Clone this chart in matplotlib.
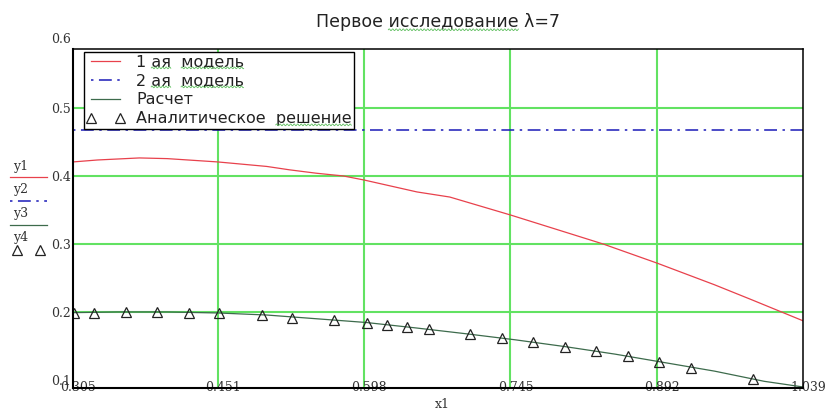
import numpy as np
import matplotlib
matplotlib.use("Agg")
import matplotlib.pyplot as plt
from matplotlib.lines import Line2D
from matplotlib.transforms import ScaledTranslation

# --- data -------------------------------------------------------------
x_ticks = [0.305, 0.451, 0.598, 0.745, 0.892, 1.039]
y_ticks = [0.1, 0.2, 0.3, 0.4, 0.5]

# 1st model
x1_m1 = [0.305, 0.33, 0.372, 0.40, 0.451, 0.50, 0.523, 0.55, 0.577, 0.598,
         0.651, 0.684, 0.745, 0.79, 0.838, 0.892, 0.95, 0.988, 1.039]
y1 = [0.4206, 0.4235, 0.4265, 0.4255, 0.4206, 0.4140, 0.409, 0.404, 0.400, 0.394,
      0.3765, 0.369, 0.3426, 0.322, 0.300, 0.272, 0.240, 0.2176, 0.187]

# 2nd model (constant)
x1_m2 = [0.305, 1.039]
y2 = [0.467, 0.467]

# calculation
x1_calc = [0.305, 0.35, 0.40, 0.451, 0.50, 0.55, 0.60, 0.65, 0.70, 0.75,
           0.80, 0.85, 0.90, 0.95, 1.00, 1.039]
y3 = [0.199, 0.2, 0.2, 0.1985, 0.1955, 0.190, 0.1845, 0.1765, 0.168, 0.159,
      0.149, 0.138, 0.1255, 0.113, 0.098, 0.0897]

# analytical solution
x1_an = [0.3063, 0.3267, 0.3583, 0.3894, 0.4219, 0.4520, 0.4950, 0.5257,
         0.5679, 0.6005, 0.6206, 0.6413, 0.6634, 0.7043, 0.7368, 0.7679,
         0.7998, 0.8310, 0.8628, 0.8943, 0.9265, 0.9891]
y4 = [0.1981, 0.1981, 0.1996, 0.1996, 0.1981, 0.1981, 0.1951, 0.1916,
      0.1878, 0.1838, 0.1809, 0.1779, 0.1750, 0.1676, 0.1613, 0.1563,
      0.1490, 0.1426, 0.1353, 0.1265, 0.1181, 0.1010]

labels = ["1 ая  модель", "2 ая  модель", "Расчет", "Аналитическое  решение"]
title = "Первое исследование λ=7"

# --- styles -----------------------------------------------------------
RED = "#e8414c"
BLUE = "#1a1ab8"
DGREEN = "#3d6b4c"
GRID = "#62e262"
SPELL = "#5fbf5f"
DASHDOT = (0, (1.6, 3.6, 8.4, 3.6))
SERIF = "DejaVu Serif"
W, H = 827.0, 412.0

fig = plt.figure(figsize=(W / 100, H / 100), dpi=100)
ax = fig.add_axes([0.0879, 0.0583, 0.8831, 0.8216])

ax.plot(x1_m1, y1, color=RED, lw=0.9, label=labels[0])
ax.plot(x1_m2, y2, color=BLUE, lw=1.1, linestyle=DASHDOT, label=labels[1])
ax.plot(x1_calc, y3, color=DGREEN, lw=0.9, label=labels[2])
ax.plot(x1_an, y4, linestyle="none", marker="^", markersize=7.5,
        markerfacecolor="none", markeredgecolor="#222222", markeredgewidth=0.9,
        label=labels[3])

ax.set_xlim(0.305, 1.039)
ax.set_ylim(0.0882, 0.586)

# grid only on interior ticks
for xv in x_ticks[1:-1]:
    ax.axvline(xv, color=GRID, lw=1.5, zorder=0)
for yv in y_ticks[1:]:
    ax.axhline(yv, color=GRID, lw=1.5, zorder=0)

ax.set_xticks(x_ticks)
ax.set_xticklabels([f"{v:.3f}" for v in x_ticks])
ax.set_yticks(y_ticks)
ax.set_yticklabels([f"{v:g}" for v in y_ticks])
ax.tick_params(axis="both", length=0, labelsize=9, labelcolor="#333333")
ax.tick_params(axis="x", pad=-5)
ax.tick_params(axis="y", pad=1)
for lab in ax.get_xticklabels() + ax.get_yticklabels():
    lab.set_fontfamily(SERIF)
for lab in ax.get_xticklabels():
    lab.set_transform(lab.get_transform() + ScaledTranslation(5 / 100, 0, fig.dpi_scale_trans))

# 0.6 label sits above the frame
ax.text(-0.003, 0.6, "0.6", transform=ax.get_yaxis_transform(), ha="right", va="center",
        fontsize=9, family=SERIF, color="#333333", clip_on=False)

for side in ["left", "bottom"]:
    ax.spines[side].set_linewidth(1.5)
for side in ["top", "right"]:
    ax.spines[side].set_linewidth(1.1)

leg = ax.legend(loc="upper left", bbox_to_anchor=(0.0155, 0.9926), borderaxespad=0,
                fontsize=11.5, numpoints=2, handlelength=2.4, handletextpad=0.7,
                labelspacing=0.25, borderpad=0.15, fancybox=False, framealpha=1,
                edgecolor="black")
leg.get_frame().set_linewidth(1.0)
for t in leg.get_texts():
    t.set_color("#222222")

ttl = ax.set_title(title, fontsize=12.5, color="#222222", pad=16)

# y axis trace labels at left
ytrace = [("y1", 166, dict(color=RED, lw=0.9)),
          ("y2", 190, dict(color=BLUE, lw=1.1, linestyle=DASHDOT)),
          ("y3", 214, dict(color=DGREEN, lw=0.9)),
          ("y4", 238, None)]
for name, ypx, style in ytrace:
    fig.text(13 / W, 1 - ypx / H, name, fontsize=9, family=SERIF, color="#333333",
             va="center", ha="left")
    if style is not None:
        fig.add_artist(Line2D([10 / W, 47 / W], [1 - (ypx + 11) / H] * 2,
                              transform=fig.transFigure, **style))
    else:
        fig.add_artist(Line2D([17 / W, 40 / W], [1 - (ypx + 12) / H] * 2,
                              transform=fig.transFigure, linestyle="none", marker="^",
                              markersize=7.5, markerfacecolor="none",
                              markeredgecolor="#222222", markeredgewidth=0.9))

fig.text(442 / W, 1 - 405 / H, "x1", fontsize=9, family=SERIF, color="#333333",
         ha="center", va="center")

# spell-check style wavy underlines under some words
fig.canvas.draw()
rend = fig.canvas.get_renderer()


def text_width(s, fp):
    return rend.get_text_width_height_descent(s, fp, ismath=False)[0]


def squiggle(txt, word, nth=0):
    s = txt.get_text()
    i = -1
    for _ in range(nth + 1):
        i = s.index(word, i + 1)
    fp = txt.get_fontproperties()
    bb = txt.get_window_extent(rend)
    x1 = bb.x0 + text_width(s[:i + len(word)], fp)
    x0 = x1 - text_width(word, fp)
    xs = np.arange(x0, x1, 0.5)
    ys = bb.y0 + 1.5 + 0.9 * np.sin((xs - x0) * 2 * np.pi / 3.5)
    fig.add_artist(Line2D(xs / W, ys / H, transform=fig.transFigure,
                          color=SPELL, lw=0.6))


legend_texts = leg.get_texts()
for k in (0, 1):
    squiggle(legend_texts[k], "ая")
    squiggle(legend_texts[k], "модель")
squiggle(legend_texts[3], "решение")
squiggle(ttl, "исследование")

fig.savefig("out.png", dpi=100)
